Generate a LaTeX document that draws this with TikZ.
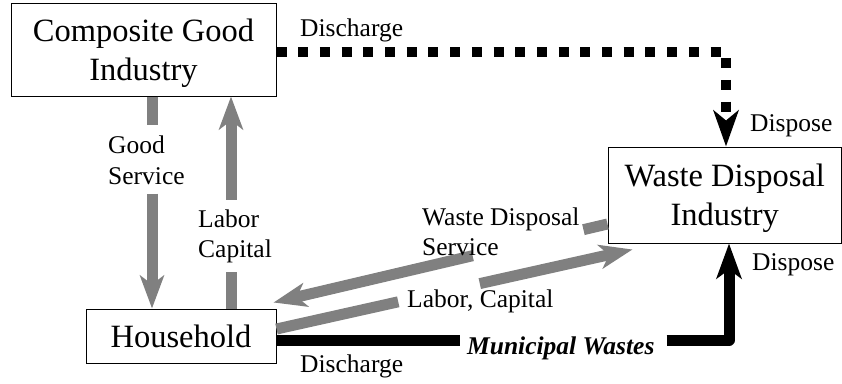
\documentclass[tikz,border=0pt]{standalone}
\usepackage{fontspec}
\setmainfont{Liberation Serif}
\usetikzlibrary{arrows.meta,calc}
\begin{document}
\begin{tikzpicture}[x=1pt,y=-1pt,
  box/.style={draw,line width=1pt,inner sep=0pt,align=center,
    font=\fontsize{32.5}{39}\selectfont},
  lbl/.style={inner sep=0pt,anchor=base west,font=\fontsize{25.5}{31}\selectfont},
  gflow/.style={draw=gray,line width=11pt},
  ghead/.style={-{Stealth[length=33pt,width=24pt,inset=9pt,fill=gray,color=gray]}},
  bflow/.style={draw=black,line width=11pt,line join=round},
  bhead/.style={-{Stealth[length=35pt,width=25pt,inset=9pt]}},
  dflow/.style={draw=black,line width=10pt,dash pattern=on 10pt off 11.7pt}]
\useasboundingbox (0,0) rectangle (842,383);

% boxes
\node[box,minimum width=265pt,minimum height=93pt] (cg) at (143.5,49.5) {\rule{0pt}{31pt}Composite Good\\Industry};
\node[box,minimum width=233.5pt,minimum height=96pt] (wd) at (724.75,195) {\rule{0pt}{29pt}Waste Disposal\\Industry};
\node[box,minimum width=190pt,minimum height=54pt] (hh) at (181,336) {Household};

% Good Service (down)
\draw[gflow] ($(cg.south)+(8.5,0)$) -- ($(cg.south)+(8.5,28)$);
\draw[gflow,ghead] ($(cg.south)+(8.5,97)$) -- ($(hh.north)+(-29,0)$);

% Labor Capital (up)
\draw[gflow] ($(hh.north)+(50,0)$) -- ($(hh.north)+(50,-37)$);
\draw[gflow,ghead] ($(hh.north)+(50,-109)$) -- ($(cg.south)+(87.5,0)$);

% Waste Disposal Service (to household)
\coordinate (wsA) at ($(wd.west)+(0,29)$);
\coordinate (wsB) at ($(hh.north east)+(-3,-6)$);
\draw[gflow] (wsA) -- ($(wsA)!0.072!(wsB)$);
\draw[gflow,ghead] ($(wsA)!0.404!(wsB)$) -- (wsB);

% Labor, Capital (to waste disposal)
\coordinate (lcA) at ($(hh.east)+(0,-7)$);
\coordinate (lcB) at ($(wd.south west)+(25,6)$);
\draw[gflow] (lcA) -- ($(lcA)!0.342!(lcB)$);
\draw[gflow,ghead] ($(lcA)!0.571!(lcB)$) -- (lcB);

% Municipal wastes (black)
\coordinate (mwA) at ($(hh.east)+(0,4)$);
\coordinate (mwB) at ($(wd.south)+(4.25,0)$);
\draw[bflow] (mwA) -- ($(mwA)+(183,0)$);
\draw[bflow,bhead] ($(mwA)+(390,0)$) -- (mwB |- mwA) -- (mwB);

% Discharge dotted (black)
\coordinate (dA) at ($(cg.east)+(0,2.5)$);
\coordinate (dB) at ($(wd.north)+(1.25,0)$);
\draw[dflow,-{Stealth[length=36pt,width=25pt,inset=10pt]}] (dA) -- (dB |- dA) -- (dB);

% labels
\node[lbl] (l1) at (300,36) {Discharge};
\node[lbl] (l2) at (750,131) {Dispose};
\node[lbl] (l3) at (108,153) {Good};
\node[lbl] (l4) at (108,184) {Service};
\node[lbl] (l5) at (198,227) {Labor};
\node[lbl] (l6) at (198,257) {Capital};
\node[lbl] (l7) at (422,225) {Waste Disposal};
\node[lbl] (l8) at (422,255) {Service};
\node[lbl] (l9) at (407,307) {Labor, Capital};
\node[lbl,font=\fontsize{25.5}{31}\selectfont\bfseries\itshape] (l10) at (467,354) {Municipal Wastes};
\node[lbl] (l11) at (300,372) {Discharge};
\node[lbl] (l12) at (752,270) {Dispose};
\end{tikzpicture}
\end{document}
